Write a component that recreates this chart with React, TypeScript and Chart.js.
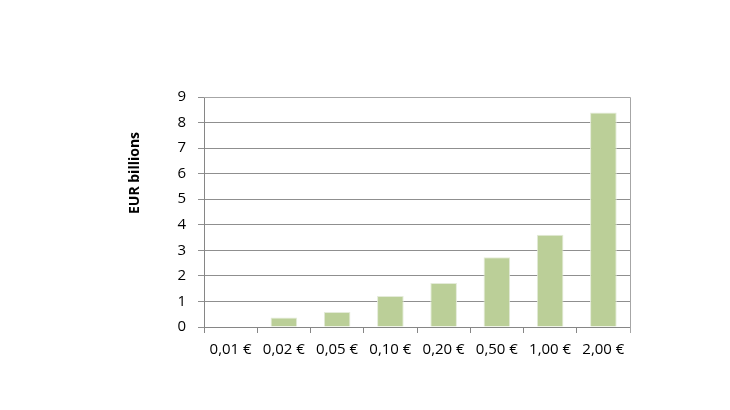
import { Chart, ChartConfiguration, registerables } from "chart.js";
import { useEffect, useRef } from "react";

Chart.register(...registerables);

const coinLabels = ["0,01 €", "0,02 €", "0,05 €", "0,10 €", "0,20 €", "0,50 €", "1,00 €", "2,00 €"];
const valueBillions = [0, 0.37, 0.59, 1.21, 1.72, 2.73, 3.61, 8.39];
const yTitle = "EUR billions";
const yMin = 0;
const yMax = 9;

const fontFamily = "'Open Sans', 'Noto Sans', sans-serif";

// light frame on top/right of the plot, plus the rotated axis title
const framePlugin = {
  id: "plotFrame",
  beforeDatasetsDraw(chart: Chart) {
    const { ctx, chartArea } = chart;
    ctx.save();
    ctx.strokeStyle = "#a6a6a6";
    ctx.lineWidth = 1;
    ctx.beginPath();
    ctx.moveTo(chartArea.left, chartArea.top + 0.5);
    ctx.lineTo(chartArea.right + 0.5, chartArea.top + 0.5);
    ctx.lineTo(chartArea.right + 0.5, chartArea.bottom + 6);
    ctx.stroke();
    ctx.restore();
  },
  afterDraw(chart: Chart) {
    const { ctx, chartArea } = chart;
    ctx.save();
    ctx.translate(chartArea.left - 69, chartArea.top + 76);
    ctx.rotate(-Math.PI / 2);
    ctx.font = `bold 14px ${fontFamily}`;
    ctx.fillStyle = "#000";
    ctx.textAlign = "center";
    ctx.textBaseline = "middle";
    ctx.fillText(yTitle, 0, 0);
    ctx.restore();
  },
};

export default function App() {
  const chartRef = useRef<HTMLCanvasElement>(null);
  const chartInstance = useRef<Chart | null>(null);

  useEffect(() => {
    if (!chartRef.current) return;
    const ctx = chartRef.current.getContext("2d");
    if (!ctx) return;
    if (chartInstance.current) chartInstance.current.destroy();

    const config: ChartConfiguration = {
      type: "bar",
      data: {
        labels: coinLabels,
        datasets: [
          {
            data: valueBillions,
            backgroundColor: "#bbcf98",
            borderColor: "#e4ebd9",
            borderWidth: { left: 1, right: 1, top: 1, bottom: 0 },
            barPercentage: 0.5,
            categoryPercentage: 1,
          },
        ],
      },
      options: {
        animation: false,
        responsive: true,
        maintainAspectRatio: false,
        layout: { padding: { top: 97, right: 100, bottom: 43, left: 100 } },
        plugins: {
          legend: { display: false },
          tooltip: { enabled: false },
        },
        scales: {
          x: {
            grid: {
              offset: true,
              drawOnChartArea: false,
              drawTicks: true,
              tickLength: 6,
              color: "#868686",
            },
            border: { display: true, color: "#868686" },
            ticks: {
              padding: 8,
              color: "#000",
              font: { family: fontFamily, size: 15 },
              maxRotation: 0,
              autoSkip: false,
            },
            afterFit(scale) {
              scale.height = 40;
            },
          },
          y: {
            min: yMin,
            max: yMax,
            grid: {
              color: "#8f8f8f",
              tickLength: 6,
              drawTicks: true,
            },
            border: { display: true, color: "#868686" },
            ticks: {
              stepSize: 1,
              padding: 12,
              color: "#000",
              font: { family: fontFamily, size: 15 },
            },
            afterFit(scale) {
              scale.width = 104;
            },
          },
        },
      },
      plugins: [framePlugin],
    };

    chartInstance.current = new Chart(ctx, config);

    return () => {
      if (chartInstance.current) {
        chartInstance.current.destroy();
        chartInstance.current = null;
      }
    };
  }, []);

  return (
    <div style={{ position: "fixed", left: 0, top: 0, width: 730, height: 410, background: "#fff" }}>
      <canvas ref={chartRef}></canvas>
    </div>
  );
}
